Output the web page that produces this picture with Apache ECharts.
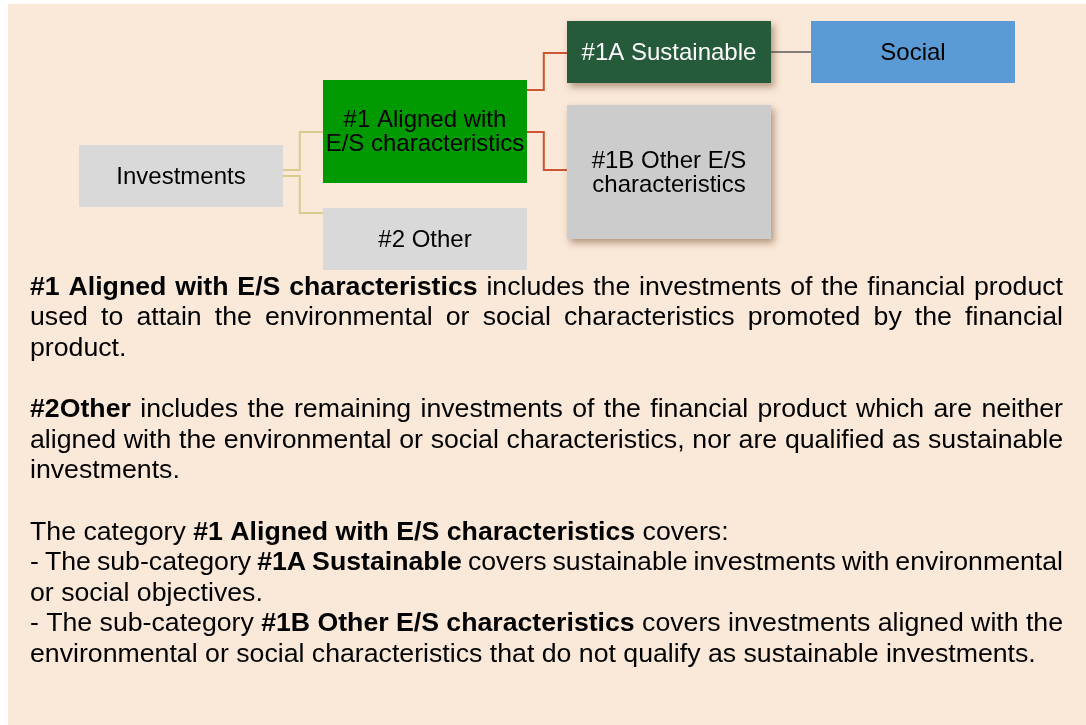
<!DOCTYPE html>
<html>
<head>
<meta charset="utf-8">
<title>Investments E/S characteristics</title>
<script src="https://cdn.jsdelivr.net/npm/echarts@6/dist/echarts.min.js"></script>
<style>
  html, body { margin: 0; padding: 0; background: #fff; }
  #chart { width: 1086px; height: 725px; }
</style>
</head>
<body>
<div id="chart"></div>
<script>
// diagram boxes: column, vertical centre and height (row units)
const nodeNames = ['Investments', '#1 Aligned with\nE/S characteristics', '#2 Other', '#1A Sustainable', '#1B Other E/S\ncharacteristics', 'Social']
const nodeLevels = [0, 1, 1, 2, 2, 3]
const nodeCenters = [17.6, 13.15, 23.9, 5.2, 17.2, 5.2]
const nodeHeights = [6.2, 10.3, 6.2, 6.2, 13.4, 6.2]

// connectors parent -> child (where they leave / reach, in row units)
const linkLevels = [0, 0, 1, 1, 2]
const linkStartY = [17.0, 17.6, 9.0, 13.2, 5.2]
const linkEndY = [13.2, 21.3, 5.3, 17.0, 5.2]

// text below the diagram, one entry per printed line: [bold, text]
const textLines = [
  [[1, '#1 Aligned with E/S characteristics'], [0, ' includes the investments of the financial product']],
  [[0, 'used to attain the environmental or social characteristics promoted by the financial']],
  [[0, 'product.']],
  [],
  [[1, '#2Other'], [0, ' includes the remaining investments of the financial product which are neither']],
  [[0, 'aligned with the environmental or social characteristics, nor are qualified as sustainable']],
  [[0, 'investments.']],
  [],
  [[0, 'The category '], [1, '#1 Aligned with E/S characteristics'], [0, ' covers:']],
  [[0, '- The sub-category '], [1, '#1A Sustainable'], [0, ' covers sustainable investments with environmental']],
  [[0, 'or social objectives.']],
  [[0, '- The sub-category '], [1, '#1B Other E/S characteristics'], [0, ' covers investments aligned with the']],
  [[0, 'environmental or social characteristics that do not qualify as sustainable investments.']]
]
const justifiedLines = [1, 1, 0, 0, 1, 1, 0, 0, 0, 1, 0, 1, 0]

const FONT = '"Liberation Sans", Arial, sans-serif'
const TEXT_SIZE = 26.7
const BOX_W = 204 / 244

const nodeStyles = [
  { fill: '#d9d9d9', text: '#000' },
  { fill: '#009900', text: '#000' },
  { fill: '#d9d9d9', text: '#000' },
  { fill: '#255a3a', text: '#fff', shadow: true },
  { fill: '#cccccc', text: '#000', shadow: true },
  { fill: '#5b9bd5', text: '#000' }
]
const linkStyles = [
  { stroke: '#d9cb8e', lineWidth: 2 },
  { stroke: '#cc5533', lineWidth: 2 },
  { stroke: '#5a5a5a', lineWidth: 1.5 }
]

// justified text, placed word by word
const ctx = document.createElement('canvas').getContext('2d')
function fontOf(bold) {
  return (bold ? 'bold ' : '') + TEXT_SIZE + 'px ' + FONT
}
function measure(t, bold) {
  ctx.font = fontOf(bold)
  return ctx.measureText(t).width
}
const TEXT_LEFT = 30
const TEXT_RIGHT = 1063
const textGraphics = []
textLines.forEach((line, li) => {
  const words = []
  line.forEach(([bold, str]) => {
    str.split(/\s+/).filter(w => w).forEach(w => words.push({ t: w, bold, w: measure(w, bold) }))
  })
  if (!words.length) return
  const total = words.reduce((s, w) => s + w.w, 0)
  const gap = justifiedLines[li] && words.length > 1
    ? (TEXT_RIGHT - TEXT_LEFT - total) / (words.length - 1)
    : measure(' ', 0)
  let x = TEXT_LEFT
  const y = 287.5 + li * 30.6
  words.forEach(w => {
    textGraphics.push({
      type: 'text',
      x: x,
      y: y,
      style: {
        text: w.t,
        font: fontOf(w.bold),
        fill: '#000',
        verticalAlign: 'middle'
      }
    })
    x += w.w + gap
  })
})

const chart = echarts.init(document.getElementById('chart'))
chart.setOption({
  animation: false,
  backgroundColor: '#fff',
  grid: { left: 79, top: 0, width: 976, height: 270 },
  xAxis: { type: 'value', min: 0, max: 4, show: false },
  yAxis: { type: 'value', min: 0, max: 27, inverse: true, show: false },
  graphic: [
    {
      type: 'rect',
      z: -10,
      shape: { x: 8, y: 4, width: 1078, height: 721 },
      style: { fill: '#fae8d8' }
    }
  ].concat(textGraphics),
  series: [
    {
      type: 'custom',
      z: 1,
      data: linkLevels.map((l, i) => [l, linkStartY[i], linkEndY[i]]),
      renderItem(params, api) {
        const lvl = api.value(0)
        const p0 = api.coord([lvl + BOX_W, api.value(1)])
        const p1 = api.coord([lvl + 1, api.value(2)])
        const xm = p0[0] + (p1[0] - p0[0]) * 0.42
        const st = linkStyles[lvl]
        return {
          type: 'polyline',
          shape: { points: [p0, [xm, p0[1]], [xm, p1[1]], p1] },
          style: { stroke: st.stroke, lineWidth: st.lineWidth, fill: null }
        }
      }
    },
    {
      type: 'custom',
      z: 2,
      data: nodeNames.map((n, i) => [nodeLevels[i], nodeCenters[i], nodeHeights[i]]),
      renderItem(params, api) {
        const i = params.dataIndex
        const c = api.coord([api.value(0), api.value(1)])
        const s = api.size([BOX_W, api.value(2)])
        const st = nodeStyles[i]
        const rectStyle = { fill: st.fill }
        if (st.shadow) {
          rectStyle.shadowBlur = 7
          rectStyle.shadowOffsetX = 3
          rectStyle.shadowOffsetY = 4
          rectStyle.shadowColor = 'rgba(110, 70, 40, 0.5)'
        }
        return {
          type: 'group',
          children: [
            {
              type: 'rect',
              shape: { x: c[0], y: c[1] - s[1] / 2, width: s[0], height: s[1] },
              style: rectStyle
            },
            {
              type: 'text',
              x: c[0] + s[0] / 2,
              y: c[1] + 1,
              style: {
                text: nodeNames[i],
                font: '24px ' + FONT,
                fill: st.text,
                align: 'center',
                verticalAlign: 'middle',
                lineHeight: 24
              }
            }
          ]
        }
      }
    }
  ]
})
</script>
</body>
</html>
